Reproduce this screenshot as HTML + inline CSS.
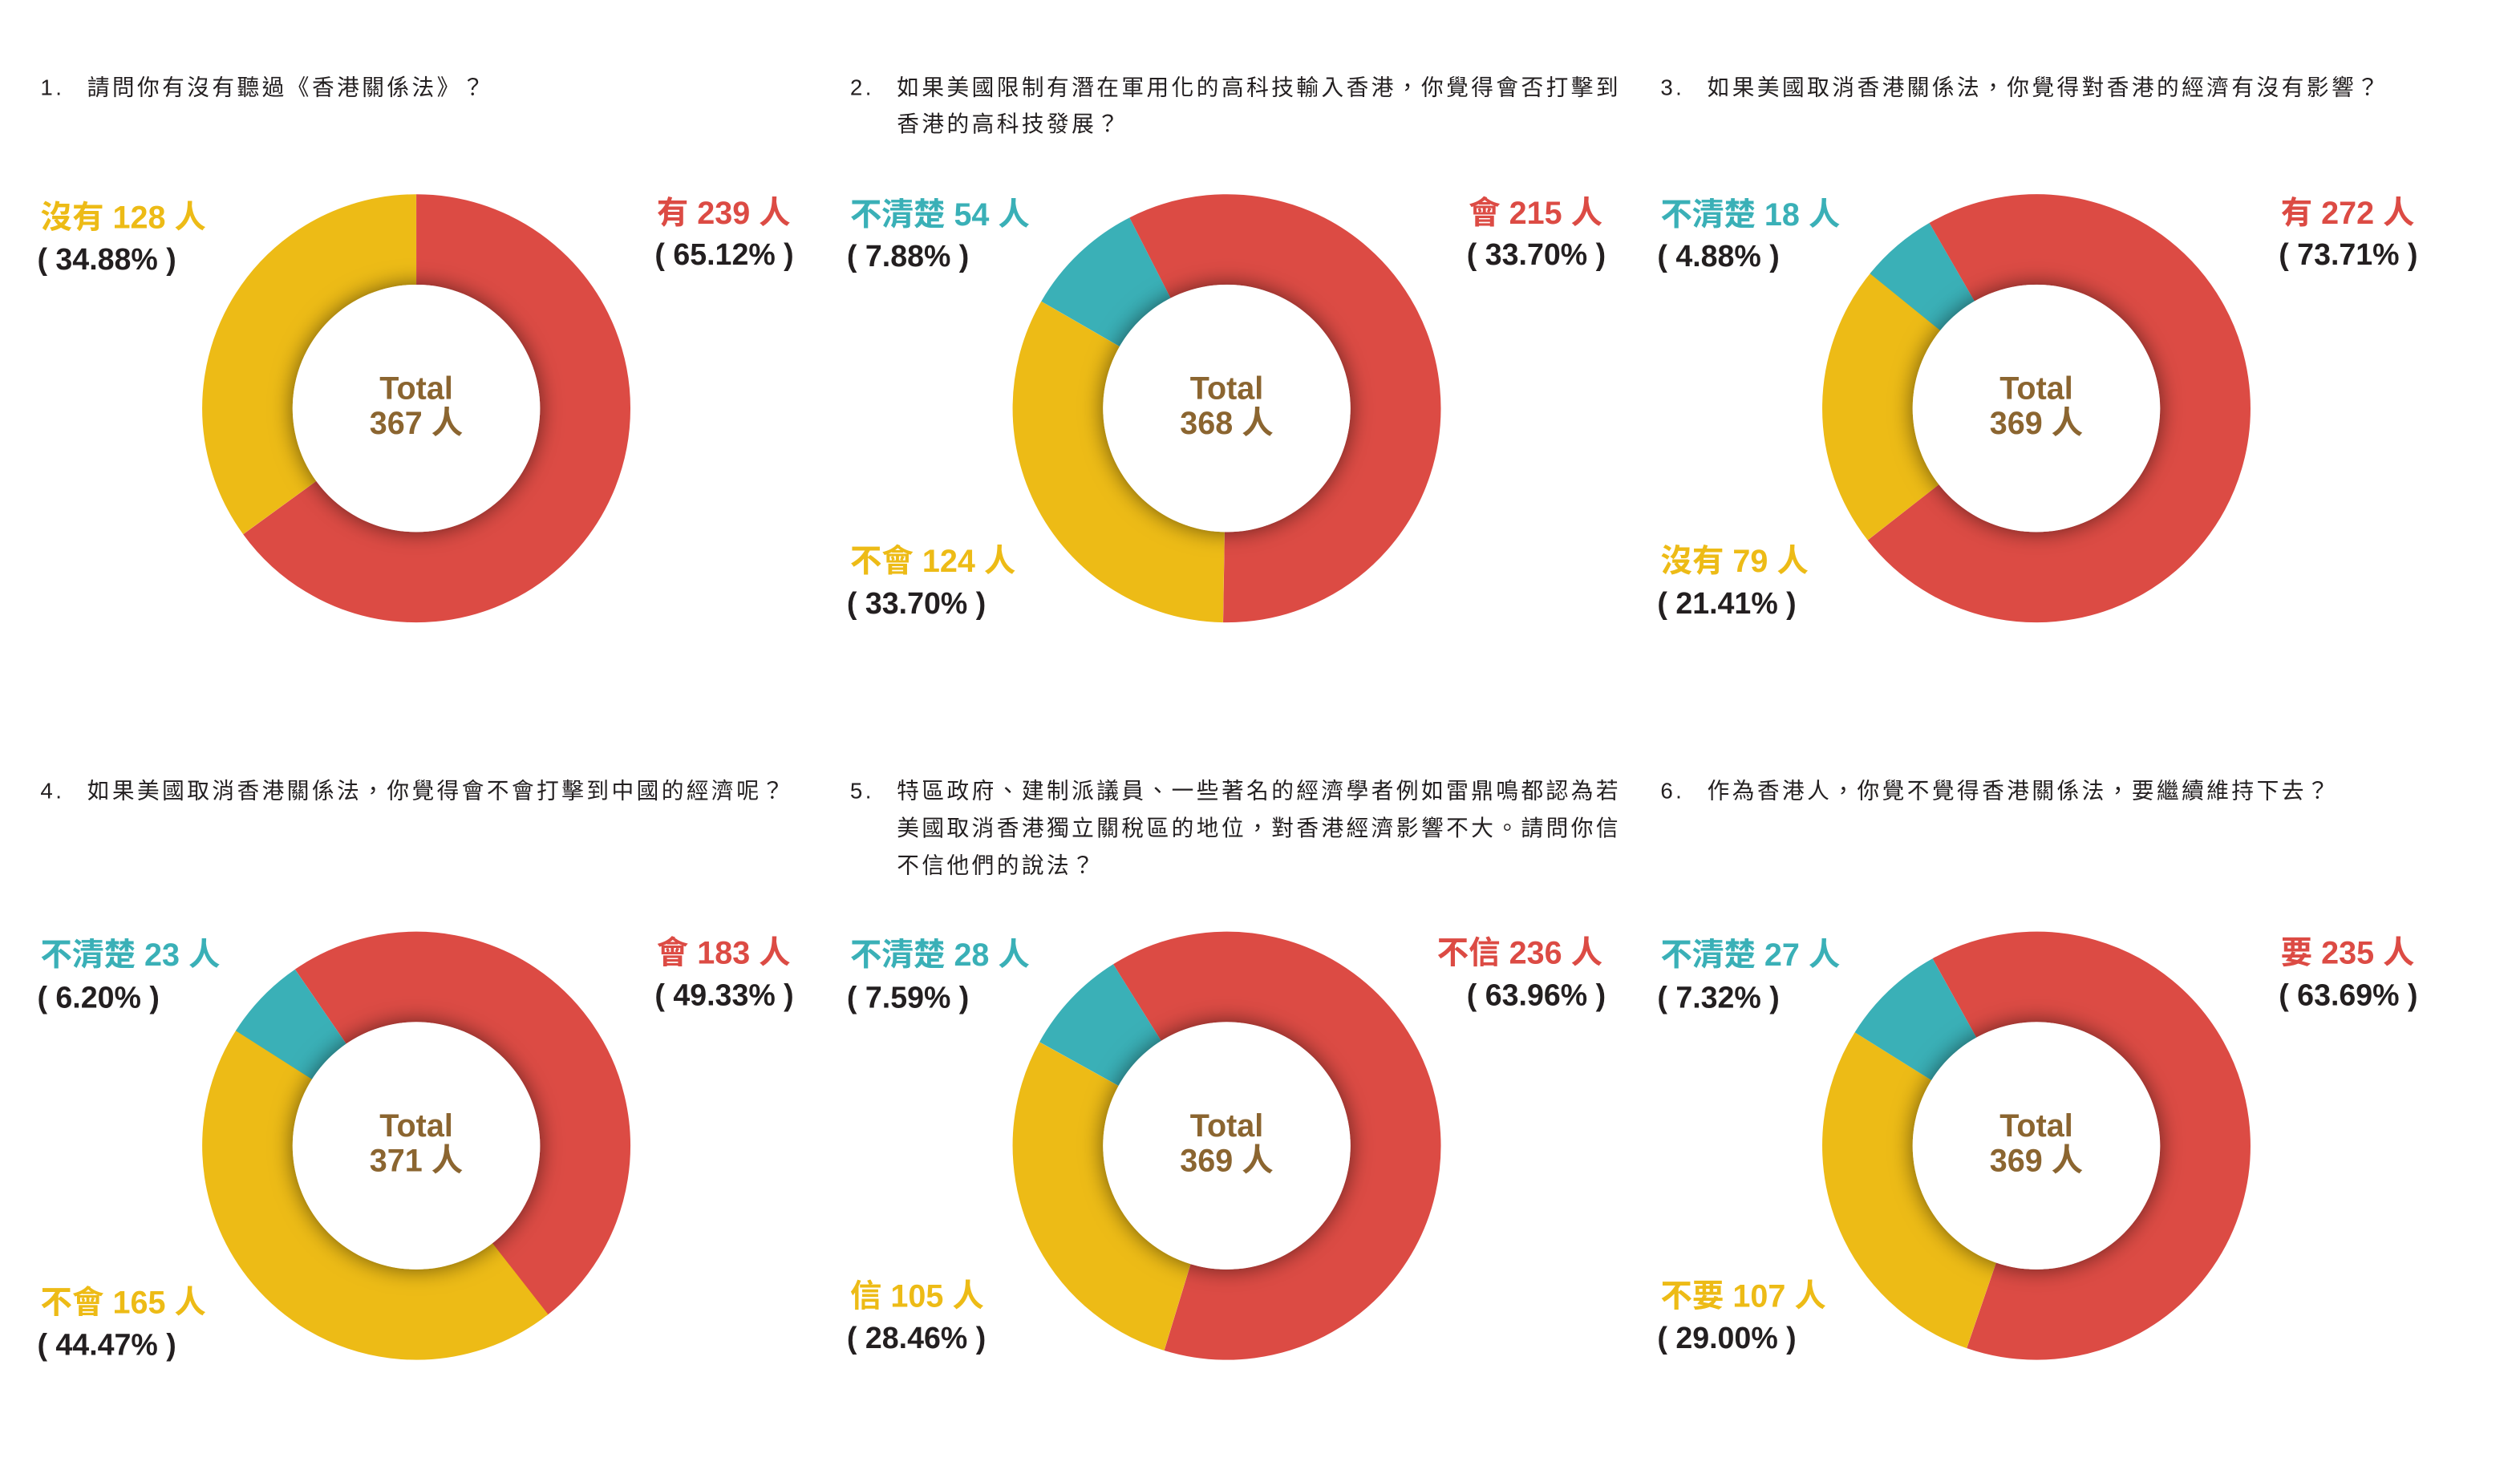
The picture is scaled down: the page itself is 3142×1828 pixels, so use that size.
<!DOCTYPE html>
<html><head><meta charset="utf-8">
<style>
html,body{margin:0;padding:0;background:#fff;}
svg{display:block;}
text{font-family:"Liberation Sans","Noto Sans CJK TC",sans-serif;}
.q{font-size:28px;fill:#231f20;letter-spacing:3.5px;}
.lb{font-size:40px;font-weight:bold;}
.pc{font-size:38px;font-weight:bold;fill:#231f20;}
.tt{font-size:40px;font-weight:bold;fill:#8b6530;text-anchor:middle;}
.r{fill:#dc4b44}.y{fill:#edbb16}.t{fill:#3ab0b7}
</style></head><body>
<svg width="3142" height="1828" viewBox="0 0 3142 1828" xmlns="http://www.w3.org/2000/svg">
<defs>
<filter id="sh" x="-50%" y="-50%" width="200%" height="200%">
<feDropShadow dx="0" dy="0" stdDeviation="14" flood-color="#000" flood-opacity="0.55"/>
</filter>
<g id="hole"><circle r="156" fill="#fff" filter="url(#sh)"/></g>
</defs>
<g transform="scale(0.9887)">
<!-- Titles -->
<text class="q" x="51" y="120">1.</text><text class="q" x="110" y="120">請問你有沒有聽過《香港關係法》？</text>
<text class="q" x="1072" y="120">2.</text><text class="q" x="1131" y="120">如果美國限制有潛在軍用化的高科技輸入香港，你覺得會否打擊到</text>
<text class="q" x="1131" y="166">香港的高科技發展？</text>
<text class="q" x="2094" y="120">3.</text><text class="q" x="2153" y="120">如果美國取消香港關係法，你覺得對香港的經濟有沒有影響？</text>
<text class="q" x="51" y="1007">4.</text><text class="q" x="110" y="1007">如果美國取消香港關係法，你覺得會不會打擊到中國的經濟呢？</text>
<text class="q" x="1072" y="1007">5.</text><text class="q" x="1131" y="1007">特區政府、建制派議員、一些著名的經濟學者例如雷鼎鳴都認為若</text>
<text class="q" x="1131" y="1054">美國取消香港獨立關稅區的地位，對香港經濟影響不大。請問你信</text>
<text class="q" x="1131" y="1101">不信他們的說法？</text>
<text class="q" x="2094" y="1007">6.</text><text class="q" x="2153" y="1007">作為香港人，你覺不覺得香港關係法，要繼續維持下去？</text>

<!-- Chart 1 -->
<g transform="translate(525,515)" fill="none" stroke-width="114">
<circle r="213" pathLength="360" stroke="#dc4b44" stroke-dasharray="234 360" transform="rotate(-90)"/>
<circle r="213" pathLength="360" stroke="#edbb16" stroke-dasharray="126 360" transform="rotate(144)"/>
<use href="#hole"/>
</g>
<text class="tt" x="525" y="503">Total</text><text class="tt" x="525" y="547">367 人</text>

<!-- Chart 2 -->
<g transform="translate(1547,515)" fill="none" stroke-width="114">
<circle r="213" pathLength="360" stroke="#dc4b44" stroke-dasharray="208 360" transform="rotate(243)"/>
<circle r="213" pathLength="360" stroke="#edbb16" stroke-dasharray="119 360" transform="rotate(91)"/>
<circle r="213" pathLength="360" stroke="#3ab0b7" stroke-dasharray="33 360" transform="rotate(210)"/>
<use href="#hole"/>
</g>
<text class="tt" x="1547" y="503">Total</text><text class="tt" x="1547" y="547">368 人</text>

<!-- Chart 3 -->
<g transform="translate(2568,515)" fill="none" stroke-width="114">
<circle r="213" pathLength="360" stroke="#dc4b44" stroke-dasharray="262 360" transform="rotate(240)"/>
<circle r="213" pathLength="360" stroke="#edbb16" stroke-dasharray="78 360" transform="rotate(142)"/>
<circle r="213" pathLength="360" stroke="#3ab0b7" stroke-dasharray="21 360" transform="rotate(219)"/>
<use href="#hole"/>
</g>
<text class="tt" x="2568" y="503">Total</text><text class="tt" x="2568" y="547">369 人</text>

<!-- Chart 4 -->
<g transform="translate(525,1445)" fill="none" stroke-width="114">
<circle r="213" pathLength="360" stroke="#dc4b44" stroke-dasharray="177 360" transform="rotate(235.5)"/>
<circle r="213" pathLength="360" stroke="#edbb16" stroke-dasharray="161 360" transform="rotate(52)"/>
<circle r="213" pathLength="360" stroke="#3ab0b7" stroke-dasharray="23 360" transform="rotate(212.5)"/>
<use href="#hole"/>
</g>
<text class="tt" x="525" y="1433">Total</text><text class="tt" x="525" y="1477">371 人</text>

<!-- Chart 5 -->
<g transform="translate(1547,1445)" fill="none" stroke-width="114">
<circle r="213" pathLength="360" stroke="#dc4b44" stroke-dasharray="229 360" transform="rotate(238)"/>
<circle r="213" pathLength="360" stroke="#edbb16" stroke-dasharray="102 360" transform="rotate(107)"/>
<circle r="213" pathLength="360" stroke="#3ab0b7" stroke-dasharray="29 360" transform="rotate(209)"/>
<use href="#hole"/>
</g>
<text class="tt" x="1547" y="1433">Total</text><text class="tt" x="1547" y="1477">369 人</text>

<!-- Chart 6 -->
<g transform="translate(2568,1445)" fill="none" stroke-width="114">
<circle r="213" pathLength="360" stroke="#dc4b44" stroke-dasharray="228 360" transform="rotate(241)"/>
<circle r="213" pathLength="360" stroke="#edbb16" stroke-dasharray="103 360" transform="rotate(109)"/>
<circle r="213" pathLength="360" stroke="#3ab0b7" stroke-dasharray="29 360" transform="rotate(212)"/>
<use href="#hole"/>
</g>
<text class="tt" x="2568" y="1433">Total</text><text class="tt" x="2568" y="1477">369 人</text>

<!-- Labels chart 1 -->
<text class="lb y" x="51" y="288">沒有 128 人</text>
<text class="pc" x="47" y="340">( 34.88% )</text>
<text class="lb r" x="997" y="282" text-anchor="end">有 239 人</text>
<text class="pc" x="1001" y="334" text-anchor="end">( 65.12% )</text>
<!-- chart 2 -->
<text class="lb t" x="1072" y="284">不清楚 54 人</text>
<text class="pc" x="1068" y="336">( 7.88% )</text>
<text class="lb r" x="2021" y="282" text-anchor="end">會 215 人</text>
<text class="pc" x="2025" y="334" text-anchor="end">( 33.70% )</text>
<text class="lb y" x="1072" y="721">不會 124 人</text>
<text class="pc" x="1068" y="774">( 33.70% )</text>
<!-- chart 3 -->
<text class="lb t" x="2094" y="284">不清楚 18 人</text>
<text class="pc" x="2090" y="336">( 4.88% )</text>
<text class="lb r" x="3045" y="282" text-anchor="end">有 272 人</text>
<text class="pc" x="3049" y="334" text-anchor="end">( 73.71% )</text>
<text class="lb y" x="2094" y="721">沒有 79 人</text>
<text class="pc" x="2090" y="774">( 21.41% )</text>
<!-- chart 4 -->
<text class="lb t" x="51" y="1218">不清楚 23 人</text>
<text class="pc" x="47" y="1271">( 6.20% )</text>
<text class="lb r" x="997" y="1215" text-anchor="end">會 183 人</text>
<text class="pc" x="1001" y="1268" text-anchor="end">( 49.33% )</text>
<text class="lb y" x="51" y="1656">不會 165 人</text>
<text class="pc" x="47" y="1709">( 44.47% )</text>
<!-- chart 5 -->
<text class="lb t" x="1072" y="1218">不清楚 28 人</text>
<text class="pc" x="1068" y="1271">( 7.59% )</text>
<text class="lb r" x="2021" y="1215" text-anchor="end">不信 236 人</text>
<text class="pc" x="2025" y="1268" text-anchor="end">( 63.96% )</text>
<text class="lb y" x="1072" y="1648">信 105 人</text>
<text class="pc" x="1068" y="1700">( 28.46% )</text>
<!-- chart 6 -->
<text class="lb t" x="2094" y="1218">不清楚 27 人</text>
<text class="pc" x="2090" y="1271">( 7.32% )</text>
<text class="lb r" x="3045" y="1215" text-anchor="end">要 235 人</text>
<text class="pc" x="3049" y="1268" text-anchor="end">( 63.69% )</text>
<text class="lb y" x="2094" y="1648">不要 107 人</text>
<text class="pc" x="2090" y="1700">( 29.00% )</text>
</g>
</svg>
</body></html>
